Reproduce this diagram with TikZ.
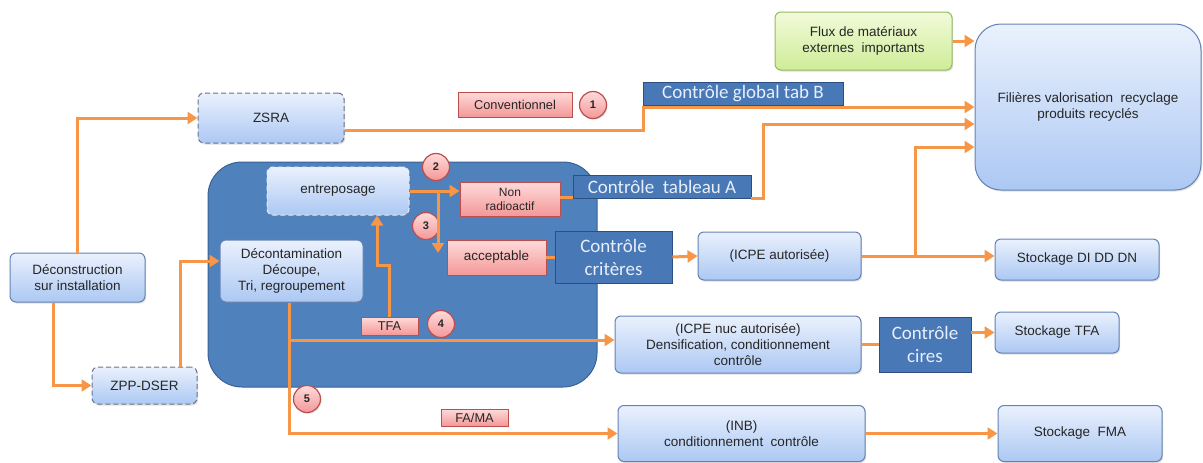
\documentclass[tikz,border=0pt]{standalone}
\usepackage{fontspec}
\setmainfont{Liberation Sans}
\newfontfamily\calib{Carlito}
\usepackage{tikz}
\usetikzlibrary{arrows.meta, shadows}
\definecolor{flow}{RGB}{247,150,70}
\definecolor{boxedge}{RGB}{100,130,180}
\definecolor{boxtop}{RGB}{234,241,253}
\definecolor{boxbot}{RGB}{172,200,243}
\definecolor{dashgray}{RGB}{105,115,135}
\definecolor{sitefill}{RGB}{79,129,189}
\definecolor{siteedge}{RGB}{58,98,148}
\definecolor{ctrlfill}{RGB}{72,120,182}
\definecolor{ctrledge}{RGB}{44,78,128}
\definecolor{ctrltext}{RGB}{232,239,250}
\definecolor{tagtop}{RGB}{255,218,218}
\definecolor{tagbot}{RGB}{243,152,152}
\definecolor{tagedge}{RGB}{188,78,78}
\definecolor{fluxtop}{RGB}{242,251,218}
\definecolor{fluxbot}{RGB}{206,236,152}
\definecolor{fluxedge}{RGB}{150,186,96}
\definecolor{txt}{RGB}{38,38,38}
\tikzset{
  block/.style={rectangle, draw=boxedge, top color=boxtop, bottom color=boxbot,
    rounded corners=6pt, line width=1pt, align=center, inner sep=0pt, text=txt,
    font=\fontsize{13.5}{16}\selectfont,
    drop shadow={opacity=0.25, shadow xshift=1.2pt, shadow yshift=-1.5pt}},
  zonebox/.style={block, draw=dashgray, dash pattern=on 5pt off 3pt},
  tag/.style={rectangle, draw=tagedge, top color=tagtop, bottom color=tagbot,
    line width=0.9pt, align=center, inner sep=0pt, text=txt,
    font=\fontsize{12.8}{14}\selectfont,
    drop shadow={opacity=0.25, shadow xshift=1pt, shadow yshift=-1.2pt}},
  ctrl/.style={rectangle, draw=ctrledge, fill=ctrlfill, text=ctrltext,
    align=center, inner sep=0pt, line width=0.9pt,
    font=\calib\fontsize{19}{23}\selectfont},
  num/.style={circle, draw=tagedge, top color=tagtop, bottom color=tagbot,
    line width=1.2pt, minimum size=27pt, inner sep=0pt, text=txt,
    font=\bfseries\fontsize{11}{11}\selectfont,
    drop shadow={opacity=0.25, shadow xshift=1pt, shadow yshift=-1.2pt}},
  arrow/.style={-{Triangle[length=10pt,width=12pt]}, line width=3pt, color=flow},
  line/.style={line width=3pt, color=flow}
}
\begin{document}
\begin{tikzpicture}[x=1pt, y=-1pt]
  \useasboundingbox (0,0) rectangle (1203,463);
  % site zone
  \draw[draw=siteedge, fill=sitefill, line width=1pt, rounded corners=34pt]
    (208,162) rectangle (597,387);

  % nodes
  \node[block, minimum width=135pt, minimum height=49pt] (decon) at (77.5,277.5) {Déconstruction\\sur installation};
  \node[zonebox, minimum width=146pt, minimum height=50pt] (zsra) at (271,118) {ZSRA};
  \node[zonebox, minimum width=105pt, minimum height=37pt] (zpp) at (144.5,385.5) {ZPP-DSER};
  \node[block, draw=white!85!sitefill, dash pattern=on 5pt off 3pt,
    minimum width=142pt, minimum height=48pt] (ent) at (338,191) {entreposage};
  \node[block, minimum width=143pt, minimum height=62pt] (decont) at (291.5,271) {Décontamination\\Découpe,\\Tri, regroupement};
  \node[tag, minimum width=100pt, minimum height=34pt, font=\fontsize{12}{14}\selectfont] (nonrad) at (510,199) {Non\\radioactif};
  \node[tag, minimum width=99pt, minimum height=35pt, font=\fontsize{13.5}{15}\selectfont] (accept) at (496.5,257.5) {acceptable};
  \node[tag, minimum width=57pt, minimum height=18pt] (tfa) at (389.5,326) {TFA};
  \node[tag, minimum width=114pt, minimum height=25pt] (conv) at (515,104.5) {Conventionnel};
  \node[tag, minimum width=67pt, minimum height=17pt] (fama) at (474.5,417.5) {FA/MA};

  \node[num] (n1) at (593,105) {1};
  \node[num] (n2) at (436,167) {2};
  \node[num] (n3) at (426,226) {3};
  \node[num] (n4) at (441,324) {4};
  \node[num] (n5) at (307,399) {5};

  \node[ctrl, minimum width=200pt, minimum height=23pt] (ctrlB) at (743,93.5) {Contrôle global tab B};
  \node[ctrl, minimum width=178pt, minimum height=23pt] (ctrlA) at (662,186.5) {Contrôle\ \ tableau A};
  \node[ctrl, minimum width=117pt, minimum height=52pt] (ctrlCrit) at (613.5,257) {Contrôle\\critères};
  \node[ctrl, minimum width=92pt, minimum height=55pt] (ctrlCires) at (925,344.5) {Contrôle\\cires};

  \node[block, minimum width=163pt, minimum height=48pt] (icpe) at (779.5,256) {(ICPE autorisée)};
  \node[block, minimum width=246pt, minimum height=57pt] (icpenuc) at (738,344.5) {(ICPE nuc autorisée)\\Densification, conditionnement\\contrôle};
  \node[block, minimum width=247pt, minimum height=56pt] (inb) at (741.5,433.5) {(INB)\\conditionnement\ \ contrôle};
  \node[block, minimum width=164pt, minimum height=41pt] (stockDI) at (1077,259.5) {Stockage\ DI DD DN};
  \node[block, minimum width=124pt, minimum height=41pt] (stockTFA) at (1057,332.5) {Stockage\ TFA};
  \node[block, minimum width=164pt, minimum height=56pt] (stockFMA) at (1080,433.5) {Stockage\ \ FMA};
  \node[block, draw=fluxedge, top color=fluxtop, bottom color=fluxbot,
    minimum width=177pt, minimum height=58pt] (flux) at (863.5,41) {Flux de matériaux\\externes\ \ importants};
  \node[block, rounded corners=26pt, minimum width=226pt, minimum height=166pt] (fil) at (1088,107) {Filières valorisation\ \ recyclage\\produits recyclés};

  % bends
  \coordinate (kB) at (643,107);
  \coordinate (kA) at (763,124);
  \coordinate (kI) at (915,256);
  \coordinate (kS) at (438,191);
  \coordinate (kD) at (438,253);
  \coordinate (kT) at (389.5,265);
  \coordinate (kN) at (289,340);

  % flows
  \draw[arrow] (decon.north) |- (zsra.west);
  \draw[arrow] ([xshift=-24.5pt]decon.south) |- (zpp.west);
  \draw[arrow] ([xshift=35.5pt]zpp.north) |- ([yshift=10pt]decont.west);
  \draw[arrow] ([yshift=-12pt]zsra.east) -| (kB) -- (kB -| fil.west);
  \draw[arrow] (flux.east) -- (flux.east -| fil.west);
  \draw[arrow] (ent.east) -- (ent.east -| nonrad.west);
  \draw[arrow] (kS) -- (kD);
  \draw[arrow] (tfa.north) -- (kT) -| ([xshift=39pt]ent.south);
  \draw[line] ([yshift=2pt]nonrad.east) -- ([yshift=2pt]nonrad.east -| ctrlA.west);
  \draw[arrow] (ctrlA.south east) -| (kA) -- (kA -| fil.west);
  \draw[line] (accept.east) -- (accept.east -| ctrlCrit.west);
  \draw[arrow] (ctrlCrit.east) -- (icpe.west);
  \draw[arrow] (icpe.east) -- (icpe.east -| stockDI.west);
  \draw[arrow] (kI) |- ([yshift=-40pt]fil.west);
  \draw[arrow] ([xshift=-2.5pt]decont.south) |- (inb.west);
  \draw[arrow] (kN) -- (kN -| icpenuc.west);
  \draw[line] (icpenuc.east) -- (icpenuc.east -| ctrlCires.west);
  \draw[arrow] (ctrlCires.east |- stockTFA.west) -- (stockTFA.west);
  \draw[arrow] (inb.east) -- (stockFMA.west);
\end{tikzpicture}
\end{document}
